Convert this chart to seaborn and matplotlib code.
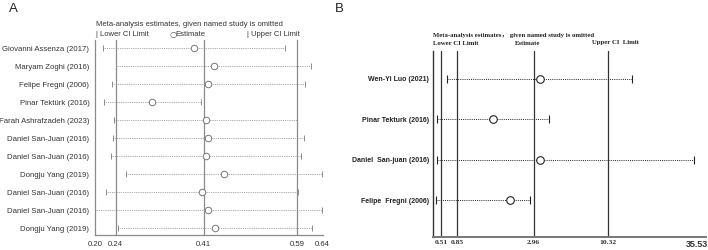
import numpy as np
import matplotlib
matplotlib.use("Agg")
import matplotlib.pyplot as plt
import seaborn as sns

# Panel A data (linear scale)
studies_a = ["Giovanni Assenza (2017)", "Maryam Zoghi (2016)", "Felipe Fregni (2006)",
             "Pinar Tektürk (2016)", "Farah Ashrafzadeh (2023)", "Daniel San-Juan (2016)",
             "Daniel San-Juan (2016)", "Dongju Yang (2019)", "Daniel San-Juan (2016)",
             "Daniel San-Juan (2016)", "Dongju Yang (2019)"]
lower_a = [0.215, 0.241, 0.232, 0.217, 0.237, 0.234, 0.230, 0.259, 0.221, 0.200, 0.245]
est_a = [0.391, 0.429, 0.418, 0.310, 0.415, 0.418, 0.415, 0.449, 0.407, 0.418, 0.432]
upper_a = [0.567, 0.617, 0.605, 0.404, 0.591, 0.603, 0.599, 0.639, 0.592, 0.639, 0.620]
ref_a = [0.24, 0.41, 0.59]
ticks_a = [0.20, 0.24, 0.41, 0.59, 0.64]

# Panel B data (log-type scale)
studies_b = ["Wen-Yi Luo (2021)", "Pinar Tekturk (2016)", "Daniel  San-juan (2016)",
             "Felipe  Fregni (2006)"]
lower_b = [0.61, 0.45, 0.45, 0.435]
est_b = [3.31, 1.53, 3.30, 2.02]
upper_b = [14.4, 3.82, 34.2, 2.80]
ref_b = [0.51, 0.85, 2.96, 10.32]
ticks_b = [0.51, 0.85, 2.96, 10.32, 35.53]

sns.set_style("white")
plt.rcParams["font.family"] = ["Liberation Sans", "DejaVu Sans"]

fig = plt.figure(figsize=(7.08, 2.5), dpi=100)

# ---------- A ----------
grey = "#8a8a8a"
axA = fig.add_axes([0.1342, 0.06, 0.3216, 0.78])
ya = np.arange(len(studies_a))
axA.hlines(ya, lower_a, upper_a, colors=grey, linestyles=(0, (1, 1.2)), lw=0.6)
axA.plot(lower_a, ya, ls="none", marker="|", ms=4, mew=0.7, color=grey)
axA.plot(upper_a, ya, ls="none", marker="|", ms=4, mew=0.7, color=grey)
for v in ref_a:
    axA.axvline(v, color=grey, lw=0.9, zorder=1)
sns.scatterplot(x=est_a, y=ya, ax=axA, marker="o", s=22, color="white",
                edgecolor="#777777", linewidth=0.7, zorder=3)
axA.set_xlim(0.20, 0.64)
axA.set_ylim(10.37, -0.46)
axA.set_xticks(ticks_a)
axA.set_xticklabels([f"{t:.2f}" for t in ticks_a], fontsize=5.6, color="#333333")
axA.set_yticks(ya)
axA.set_yticklabels(studies_a, fontsize=5.6, color="#333333")
axA.tick_params(axis="y", length=0, pad=4)
axA.tick_params(axis="x", length=2.5, width=0.7, color=grey, pad=1.5)
for s in ["top", "right"]:
    axA.spines[s].set_visible(False)
for s in ["left", "bottom"]:
    axA.spines[s].set_color(grey)
    axA.spines[s].set_linewidth(0.9)

fig.text(96.5 / 708, 1 - 24 / 250, "Meta-analysis estimates, given named study is omitted",
         fontsize=5.5, color="#333333", va="center")
fig.text(96 / 708, 1 - 34 / 250, "| Lower CI Limit", fontsize=5.5, color="#333333", va="center")
fig.text(169 / 708, 1 - 34 / 250, "○", fontsize=6, color="#555555", va="center",
         family=["DejaVu Sans"])
fig.text(175 / 708, 1 - 34 / 250, "Estimate", fontsize=5.5, color="#333333", va="center")
fig.text(247 / 708, 1 - 34 / 250, "| Upper CI Limit", fontsize=5.5, color="#333333", va="center")
fig.text(9 / 708, 1 - 9 / 250, "A", fontsize=9.5, color="#222222", va="center")

# ---------- B ----------
lk = np.log(ticks_b)
pk = np.array([0.0, 15.7, 92.4, 167.0, 255.4])


def fwd(v):
    v = np.asarray(v, dtype=float)
    lv = np.log(np.clip(v, 1e-6, None))
    out = np.interp(lv, lk, pk)
    lo_s = (pk[1] - pk[0]) / (lk[1] - lk[0])
    hi_s = (pk[-1] - pk[-2]) / (lk[-1] - lk[-2])
    out = np.where(lv < lk[0], pk[0] + (lv - lk[0]) * lo_s, out)
    out = np.where(lv > lk[-1], pk[-1] + (lv - lk[-1]) * hi_s, out)
    return out


def inv(p):
    p = np.asarray(p, dtype=float)
    lo_s = (pk[1] - pk[0]) / (lk[1] - lk[0])
    hi_s = (pk[-1] - pk[-2]) / (lk[-1] - lk[-2])
    lv = np.interp(p, pk, lk)
    lv = np.where(p < pk[0], lk[0] + (p - pk[0]) / lo_s, lv)
    lv = np.where(p > pk[-1], lk[-1] + (p - pk[-1]) / hi_s, lv)
    return np.exp(lv)


axB = fig.add_axes([0.612, 0.053, 0.385, 0.743])
axB.set_xscale("function", functions=(fwd, inv))
yb = np.arange(len(studies_b))
axB.hlines(yb, lower_b, upper_b, colors="#222222", linestyles=(0, (1, 1.2)), lw=0.7)
axB.plot(lower_b, yb, ls="none", marker="|", ms=6, mew=0.8, color="#222222")
axB.plot(upper_b, yb, ls="none", marker="|", ms=6, mew=0.8, color="#222222")
for v in ref_b:
    axB.axvline(v, color="#333333", lw=0.9, zorder=1)
sns.scatterplot(x=est_b, y=yb, ax=axB, marker="o", s=30, color="white",
                edgecolor="#222222", linewidth=0.8, zorder=3)
axB.set_xlim(0.393, 40.4)
axB.set_ylim(3.9, -0.69)
axB.set_xticks(ticks_b)
axB.set_xticklabels([f"{t:.2f}" for t in ticks_b], fontsize=5.4,
                    family=["Liberation Serif"], fontweight="bold", color="#333333")
lab = axB.get_xticklabels()[-1]
lab.set_fontfamily(["Liberation Sans"])
lab.set_fontsize(6.5)
axB.set_yticks(yb)
axB.set_yticklabels(studies_b, fontsize=5, fontweight="bold", color="#222222")
axB.tick_params(axis="y", length=0, pad=3)
axB.tick_params(axis="x", length=0, pad=2)
for s in ["top", "right"]:
    axB.spines[s].set_visible(False)
axB.spines["left"].set_color("#333333")
axB.spines["bottom"].set_color("#777777")
axB.spines["left"].set_linewidth(1.0)
axB.spines["bottom"].set_linewidth(1.4)

serif = ["Liberation Serif", "Noto Sans CJK SC"]
fig.text(433 / 708, 1 - 35 / 250, "Meta-analysis estimates， given named study is omitted",
         fontsize=4.9, fontweight="bold", family=serif, color="#222222", va="center")
fig.text(433 / 708, 1 - 44 / 250, "Lower CI Limit", fontsize=4.9, fontweight="bold",
         family=serif, color="#222222", va="center")
fig.text(528 / 708, 1 - 44 / 250, "Estimate", fontsize=4.9, fontweight="bold",
         family=serif, color="#222222", va="center", ha="center")
fig.text(592 / 708, 1 - 43 / 250, "Upper CI  Limit", fontsize=4.9, fontweight="bold",
         family=serif, color="#222222", va="center")
fig.text(335 / 708, 1 - 9 / 250, "B", fontsize=9.5, color="#222222", va="center")

fig.savefig("out.png", dpi=100)
